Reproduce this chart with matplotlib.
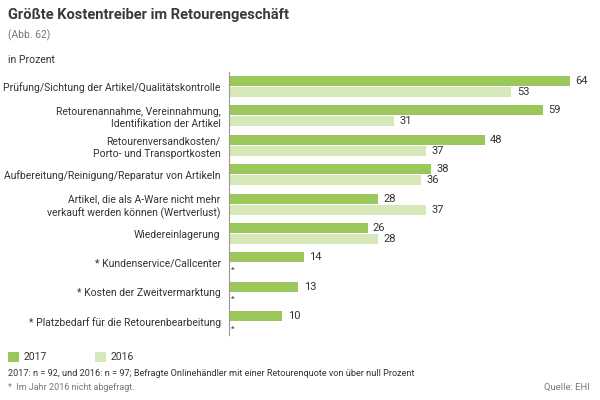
import matplotlib.pyplot as plt
import numpy as np

plt.rcParams['font.family'] = ['Roboto', 'DejaVu Sans']

categories = [
    "Prüfung/Sichtung der Artikel/Qualitätskontrolle",
    "Retourenannahme, Vereinnahmung,\nIdentifikation der Artikel",
    "Retourenversandkosten/\nPorto- und Transportkosten",
    "Aufbereitung/Reinigung/Reparatur von Artikeln",
    "Artikel, die als A-Ware nicht mehr\nverkauft werden können (Wertverlust)",
    "Wiedereinlagerung",
    "* Kundenservice/Callcenter",
    "* Kosten der Zweitvermarktung",
    "* Platzbedarf für die Retourenbearbeitung",
]
values_2017 = [64, 59, 48, 38, 28, 26, 14, 13, 10]
values_2016 = [53, 31, 37, 36, 37, 28, None, None, None]

c2017 = '#9cc75b'
c2016 = '#d6e7b8'
txt = '#333333'
grey = '#777777'

W, H = 600, 400
fig = plt.figure(figsize=(6, 4), dpi=100)

# axes placed in pixel coords
ax_left, ax_right, ax_top, ax_bot = 229, 600, 72, 335
ax = fig.add_axes([ax_left / W, 1 - ax_bot / H, (ax_right - ax_left) / W, (ax_bot - ax_top) / H])

px_per_unit = (570 - 229) / 64.0
ax.set_xlim(0, (ax_right - ax_left) / px_per_unit)
spacing = 29.4
first = 86.5
ax.set_ylim((ax_bot - first) / spacing, (ax_top - first) / spacing)

y = np.arange(len(categories))
off = 0.19
h = 0.34
v16 = [v if v is not None else 0 for v in values_2016]
ax.barh(y - off, values_2017, height=h, color=c2017, linewidth=0)
ax.barh(y + off, v16, height=h, color=c2016, linewidth=0)

for i, v in enumerate(values_2017):
    ax.text(v + 1.0, i - off, str(v), va='center', ha='left', fontsize=8, color=txt)
for i, v in enumerate(values_2016):
    if v is None:
        ax.text(0.4, i + off + 0.05, '*', va='center', ha='left', fontsize=6, color=txt)
    else:
        ax.text(v + 1.0, i + off, str(v), va='center', ha='left', fontsize=8, color=txt)

ax.set_yticks(y)
ax.set_yticklabels(categories, fontsize=7.5, color=txt, ha='right', linespacing=1.3)
ax.tick_params(axis='y', length=0, pad=6)
ax.set_xticks([])
for s in ['top', 'right', 'bottom']:
    ax.spines[s].set_visible(False)
ax.spines['left'].set_color('#999999')
ax.spines['left'].set_linewidth(0.8)

# header
fig.text(8 / W, 1 - 15 / H, "Größte Kostentreiber im Retourengeschäft", fontsize=10.5,
         fontweight='bold', color='#3a3a3a', va='center', ha='left')
fig.text(8 / W, 1 - 35 / H, "(Abb. 62)", fontsize=7.5, color=grey, va='center', ha='left')
fig.text(8 / W, 1 - 60 / H, "in Prozent", fontsize=7.5, color=txt, va='center', ha='left')

# legend
for x0, col, lab in [(8, c2017, '2017'), (95, c2016, '2016')]:
    fig.patches.append(plt.Rectangle((x0 / W, 1 - 362 / H), 11 / W, 10 / H,
                                      transform=fig.transFigure, color=col, lw=0))
    fig.text((x0 + 16) / W, 1 - 357 / H, lab, fontsize=7.5, color=txt, va='center', ha='left')

fig.text(8 / W, 1 - 374 / H,
         "2017: n = 92, und 2016: n = 97; Befragte Onlinehändler mit einer Retourenquote von über null Prozent",
         fontsize=6.6, color=txt, va='center', ha='left')
fig.text(8 / W, 1 - 387 / H, "*  Im Jahr 2016 nicht abgefragt.", fontsize=6.5, color=grey,
         va='center', ha='left')
fig.text(590 / W, 1 - 387 / H, "Quelle: EHI", fontsize=6.8, color=grey, va='center', ha='right')

fig.savefig('out.png', dpi=100)
